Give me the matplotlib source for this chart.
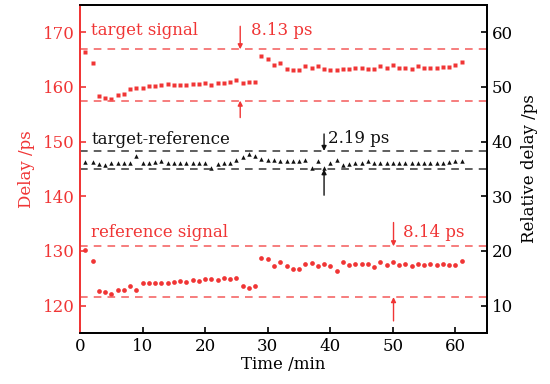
import matplotlib
matplotlib.use("Agg")
import matplotlib.pyplot as plt

plt.rcParams['font.family'] = ['DejaVu Serif']

# time axis (min)
t_first = [0.8] + list(range(2, 62))

# target signal (left axis, ps)
target = [166.4, 164.4, 158.4, 157.9, 157.8, 158.6, 158.8, 159.6, 159.9, 159.8,
          160.1, 160.2, 160.3, 160.5, 160.3, 160.4, 160.4, 160.5, 160.6, 160.7,
          160.4, 160.7, 160.8, 161.0, 161.2, 160.7, 160.9, 160.9,
          165.6, 165.2, 164.1, 164.4, 163.3, 163.1, 163.1, 163.8, 163.5, 163.8,
          163.2, 163.1, 163.1, 163.2, 163.2, 163.5, 163.5, 163.3, 163.3, 163.9,
          163.5, 164.1, 163.5, 163.5, 163.3, 163.8, 163.5, 163.5, 163.5, 163.6,
          163.6, 164.1, 164.5]

# target-reference (plotted on left axis scale)
diff = [146.2, 146.3, 145.9, 145.8, 146.0, 146.0, 146.0, 146.0, 147.4, 146.0,
        146.1, 146.3, 146.5, 146.1, 146.0, 146.0, 146.0, 146.1, 146.1, 146.1,
        145.2, 145.9, 146.0, 146.1, 146.6, 147.1, 147.8, 147.4, 146.9, 146.6,
        146.6, 146.5, 146.4, 146.4, 146.5, 146.6, 145.2, 146.5, 145.2, 146.1,
        146.7, 145.8, 145.9, 146.0, 146.0, 146.5, 146.1, 146.0, 146.0, 146.1,
        146.0, 146.0, 146.1, 146.0, 146.0, 146.0, 146.1, 146.0, 146.2, 146.4,
        146.4]

# reference signal
reference = [130.2, 128.1, 122.6, 122.4, 122.2, 122.9, 122.9, 123.6, 122.9, 124.1,
             124.2, 124.2, 124.1, 124.1, 124.4, 124.5, 124.4, 124.7, 124.5, 124.8,
             124.9, 124.6, 125.0, 124.9, 125.0, 123.6, 123.2, 123.6,
             128.7, 128.5, 127.3, 127.9, 127.3, 126.7, 126.7, 127.6, 127.8, 127.2,
             127.6, 127.3, 126.4, 127.9, 127.5, 127.6, 127.6, 127.6, 127.0, 127.9,
             127.5, 127.9, 127.4, 127.7, 127.2, 127.7, 127.5, 127.7, 127.5, 127.6,
             127.5, 127.5, 128.2]

# bound lines (max / min) for each group
target_bounds = [166.9, 157.5]
diff_bounds = [148.3, 144.95]
ref_bounds = [130.85, 121.55]

red = '#f03535'
red_line = '#f45a5a'

fig = plt.figure(figsize=(5.5, 3.84), dpi=100)
ax = fig.add_axes([0.1455, 0.133, 0.7395, 0.854])
ax2 = ax.twinx()

ax.plot(t_first, target, 's', color=red, ms=2.6, mec='none')
ax.plot(t_first, reference, 'o', color=red, ms=3.4, mec='none')
ax.plot(t_first, diff, '^', color='#111111', ms=3.2, mec='none')

for yv in target_bounds + ref_bounds:
    ax.axhline(yv, color=red_line, lw=1.1, ls=(0, (5, 4)))
for yv in diff_bounds:
    ax.axhline(yv, color='#333333', lw=1.1, ls=(0, (5, 4)))

arr_red = dict(arrowstyle='-|>', color=red, lw=1.0, mutation_scale=7, shrinkA=0, shrinkB=0)
arr_blk = dict(arrowstyle='-|>', color='#111111', lw=1.0, mutation_scale=7, shrinkA=0, shrinkB=0)

ax.annotate('', xy=(25.6, target_bounds[0]), xytext=(25.6, 171.1), arrowprops=arr_red)
ax.annotate('', xy=(25.6, target_bounds[1]), xytext=(25.6, 154.4), arrowprops=arr_red)
ax.annotate('', xy=(39.0, diff_bounds[0]), xytext=(39.0, 151.4), arrowprops=arr_blk)
ax.annotate('', xy=(39.0, diff_bounds[1]), xytext=(39.0, 140.2), arrowprops=arr_blk)
ax.annotate('', xy=(50.1, ref_bounds[0]), xytext=(50.1, 135.2), arrowprops=arr_red)
ax.annotate('', xy=(50.1, ref_bounds[1]), xytext=(50.1, 117.2), arrowprops=arr_red)

fs = 12
ax.text(1.8, 170.3, 'target signal', color=red, fontsize=fs, va='center')
ax.text(27.3, 170.3, '8.13 ps', color=red, fontsize=fs, va='center')
ax.text(1.8, 150.3, 'target-reference', color='#111111', fontsize=fs, va='center')
ax.text(39.6, 150.6, '2.19 ps', color='#111111', fontsize=fs, va='center')
ax.text(1.8, 133.3, 'reference signal', color=red, fontsize=fs, va='center')
ax.text(51.6, 133.4, '8.14 ps', color=red, fontsize=fs, va='center')

ax.set_xlim(0, 65)
ax.set_ylim(115, 175)
ax2.set_ylim(5, 65)
ax.set_xticks(range(0, 61, 10))
ax.set_yticks(range(120, 171, 10))
ax2.set_yticks(range(10, 61, 10))

ax.tick_params(axis='both', direction='in', length=4, width=1.2, labelsize=fs)
ax.tick_params(axis='y', colors=red, labelcolor=red)
ax2.tick_params(axis='y', direction='in', length=4, width=1.2, labelsize=fs)

for sp in ['top', 'bottom', 'right']:
    ax.spines[sp].set_linewidth(1.3)
    ax2.spines[sp].set_linewidth(1.3)
ax.spines['left'].set_color(red)
ax2.spines['left'].set_color(red)
ax.spines['left'].set_linewidth(1.3)
ax2.spines['left'].set_linewidth(1.3)

ax.set_xlabel('Time /min', fontsize=fs, labelpad=1)
ax.set_ylabel('Delay /ps', fontsize=fs, color=red, labelpad=6)
ax2.set_ylabel('Relative delay /ps', fontsize=fs, labelpad=6)

fig.savefig('out.png', dpi=100)
